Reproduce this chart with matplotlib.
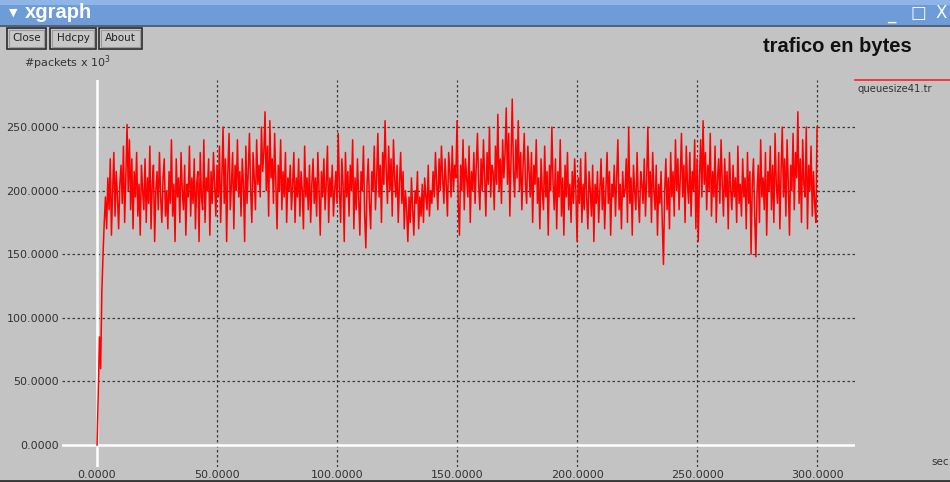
import matplotlib
matplotlib.use("Agg")
import matplotlib.pyplot as plt
from matplotlib.patches import Rectangle
from matplotlib.lines import Line2D
from matplotlib.ticker import FormatStrFormatter

# queue size samples (#packets x 10^3), one every 0.5 s from 0 to 300 s
time_step = 0.5
queue_size = [
    0, 40, 85, 60, 120, 150, 175, 195, 170, 210, 185, 225, 165, 200, 230, 180, 215, 195, 170, 205,
    220, 190, 235, 175, 210, 252, 200, 240, 185, 225, 170, 215, 195, 230, 180, 205, 165, 220, 200, 185,
    225, 175, 210, 190, 235, 170, 205, 220, 160, 200, 215, 185, 230, 195, 175, 210, 225, 180, 200, 170,
    215, 190, 240, 180, 205, 160, 225, 195, 210, 175, 230, 200, 185, 220, 165, 205, 195, 235, 180, 210,
    190, 225, 170, 205, 215, 160, 230, 195, 185, 240, 175, 210, 200, 225, 165, 215, 190, 230, 205, 180,
    220, 195, 235, 175, 210, 250, 190, 225, 160, 215, 245, 185, 205, 230, 170, 220, 200, 240, 195, 215,
    180, 225, 205, 160, 235, 190, 215, 245, 200, 175, 230, 210, 185, 240, 205, 220, 195, 250, 215, 230,
    262, 200, 235, 180, 255, 210, 225, 190, 245, 205, 170, 220, 200, 240, 185, 215, 195, 230, 175, 210,
    200, 220, 185, 205, 230, 175, 210, 195, 225, 180, 215, 200, 170, 235, 195, 210, 185, 220, 175, 205,
    225, 190, 210, 180, 230, 200, 165, 215, 195, 225, 185, 205, 235, 175, 210, 195, 220, 180, 200, 215,
    190, 245, 200, 175, 225, 205, 160, 230, 195, 215, 180, 220, 200, 240, 170, 210, 185, 225, 195, 165,
    215, 200, 235, 180, 155, 205, 225, 190, 170, 215, 200, 235, 185, 210, 245, 195, 220, 175, 230, 205,
    255, 215, 190, 235, 200, 225, 180, 240, 210, 195, 220, 175, 205, 230, 190, 215, 170, 200, 185, 160,
    195, 175, 210, 185, 165, 200, 190, 215, 170, 195, 180, 205, 175, 210, 195, 185, 220, 180, 200, 190,
    215, 195, 230, 205, 185, 225, 200, 235, 210, 190, 225, 205, 180, 230, 215, 195, 235, 200, 220, 210,
    255, 190, 165, 220, 200, 240, 185, 225, 210, 195, 235, 175, 215, 200, 230, 190, 220, 245, 205, 185,
    225, 200, 240, 210, 180, 230, 205, 250, 195, 220, 215, 185, 235, 205, 260, 200, 225, 190, 240, 210,
    230, 265, 205, 245, 180, 225, 272, 215, 195, 240, 210, 255, 200, 230, 185, 220, 245, 205, 190, 235,
    215, 195, 230, 175, 220, 205, 240, 190, 210, 170, 225, 200, 185, 235, 195, 215, 165, 220, 200, 250,
    205, 185, 225, 170, 215, 195, 240, 180, 210, 165, 220, 195, 230, 185, 205, 175, 215, 190, 225, 200,
    160, 210, 190, 225, 175, 205, 185, 230, 195, 170, 215, 200, 180, 220, 160, 205, 190, 215, 175, 200,
    225, 185, 210, 170, 200, 230, 190, 215, 165, 205, 195, 220, 180, 210, 240, 185, 205, 170, 215, 195,
    200, 225, 175, 250, 190, 210, 165, 220, 200, 185, 230, 195, 175, 215, 205, 190, 225, 180, 210, 250,
    195, 215, 175, 230, 200, 185, 220, 165, 205, 190, 215, 175, 142, 200, 225, 185, 210, 170, 230, 195,
    215, 180, 240, 200, 225, 185, 210, 245, 195, 220, 175, 235, 205, 190, 230, 180, 215, 200, 240, 170,
    225, 160, 210, 240, 195, 255, 205, 230, 185, 220, 200, 245, 180, 215, 195, 235, 175, 210, 225, 190,
    240, 205, 180, 225, 195, 215, 170, 230, 200, 185, 220, 195, 210, 175, 235, 190, 205, 180, 225, 195,
    210, 170, 230, 190, 215, 150, 205, 225, 180, 148, 200, 220, 175, 240, 195, 210, 185, 230, 165, 215,
    200, 235, 185, 220, 175, 245, 205, 190, 230, 170, 215, 250, 195, 225, 180, 240, 205, 165, 220, 200,
    245, 185, 230, 210, 262, 190, 225, 175, 240, 205, 195, 250, 170, 220, 200, 235, 180, 215, 190, 175,
    250,
]
sample_times = [i * time_step for i in range(len(queue_size))]

x_ticks = [0, 50, 100, 150, 200, 250, 300]
y_ticks = [0, 50, 100, 150, 200, 250]
series_label = "queuesize41.tr"
chart_title = "trafico en bytes"
y_label = r"#packets x 10$^3$"
x_label = "sec"

W, H = 950, 482
BG = "#c3c3c3"
FONT = "Liberation Sans"
SMALL = "DejaVu Sans"

fig = plt.figure(figsize=(W / 100, H / 100), dpi=100, facecolor=BG)


def fx(px):
    return px / W


def fy(py):
    return 1 - py / H


def box(x0, y0, x1, y1, **kw):
    fig.add_artist(Rectangle((fx(x0), fy(y1)), fx(x1) - fx(x0), fy(y0) - fy(y1),
                             transform=fig.transFigure, **kw))


def hline(x0, x1, y, **kw):
    fig.add_artist(Line2D([fx(x0), fx(x1)], [fy(y), fy(y)], transform=fig.transFigure, **kw))


# window title bar
box(0, 0, W, 25, facecolor="#6d9cd9", edgecolor="none")
box(0, 0, W, 5, facecolor="#8fb4e6", edgecolor="none")
hline(0, W, 25.5, color="#3d4f6a", lw=1.2)
fig.text(fx(9), fy(13), "\u25BC", color="white", fontsize=8, va="center", family="DejaVu Sans")
fig.text(fx(25), fy(12), "xgraph", color="white", fontsize=14.5, fontweight="bold",
         va="center", family=FONT)
fig.text(fx(887), fy(14), "_", color="white", fontsize=12, va="center", family="DejaVu Sans")
fig.text(fx(910), fy(13), "\u25A1", color="white", fontsize=12, va="center", family="DejaVu Sans")
fig.text(fx(935), fy(13), "X", color="white", fontsize=12, va="center", family="DejaVu Sans")

# buttons
for label, x0, x1 in [("Close", 7, 46), ("Hdcpy", 50, 96), ("About", 99, 142)]:
    box(x0, 28, x1, 49, facecolor="#c8c8c8", edgecolor="#2b2b2b", lw=1.2)
    box(x0 + 2, 30, x1 - 2, 47, facecolor="none", edgecolor="#9a9a9a", lw=0.8)
    fig.text(fx((x0 + x1) / 2), fy(38.5), label, fontsize=7.5, ha="center", va="center",
             color="#222222", family=SMALL)

fig.text(fx(912), fy(47), chart_title, fontsize=14.5, fontweight="bold", ha="right",
         va="center", color="#111111", family=FONT)
fig.text(fx(24), fy(63), y_label, fontsize=8, ha="left", va="center",
         color="#333333", family=SMALL)

# legend entry
fig.add_artist(Line2D([fx(855), fx(950)], [fy(80), fy(80)], transform=fig.transFigure,
                      color="#ff2020", lw=1.2))
fig.text(fx(857), fy(89), series_label, fontsize=7.2, ha="left", va="center",
         color="#333333", family=SMALL)
fig.text(fx(931), fy(462), x_label, fontsize=7.5, ha="left", va="center",
         color="#333333", family=SMALL)

# plot area
ax = fig.add_axes([fx(62), fy(467), fx(855) - fx(62), fy(80) - fy(467)])
ax.set_facecolor(BG)
for s in ax.spines.values():
    s.set_visible(False)
ax.set_xlim(-14.6, 315.8)
ax.set_ylim(-17.3, 287)
ax.set_xticks(x_ticks)
ax.set_yticks(y_ticks)
ax.xaxis.set_major_formatter(FormatStrFormatter("%.4f"))
ax.yaxis.set_major_formatter(FormatStrFormatter("%.4f"))
ax.tick_params(length=0, labelsize=8, labelcolor="#333333", pad=2)
for lab in ax.get_xticklabels() + ax.get_yticklabels():
    lab.set_family(SMALL)

for yv in y_ticks[1:]:
    ax.axhline(yv, color="#3a3a3a", lw=0.9, ls=(0, (2, 2)), zorder=1)
for xv in x_ticks[1:]:
    ax.axvline(xv, color="#3a3a3a", lw=0.9, ls=(0, (2, 2)), zorder=1)
ax.axhline(0, color="white", lw=1.8, zorder=1)
ax.axvline(0, color="white", lw=1.8, zorder=1)

ax.plot(sample_times, queue_size, color="#ff0000", lw=1.1, zorder=3)

hline(0, W, 480.5, color="#333333", lw=2)

fig.savefig("out.png", dpi=100, facecolor=BG)
